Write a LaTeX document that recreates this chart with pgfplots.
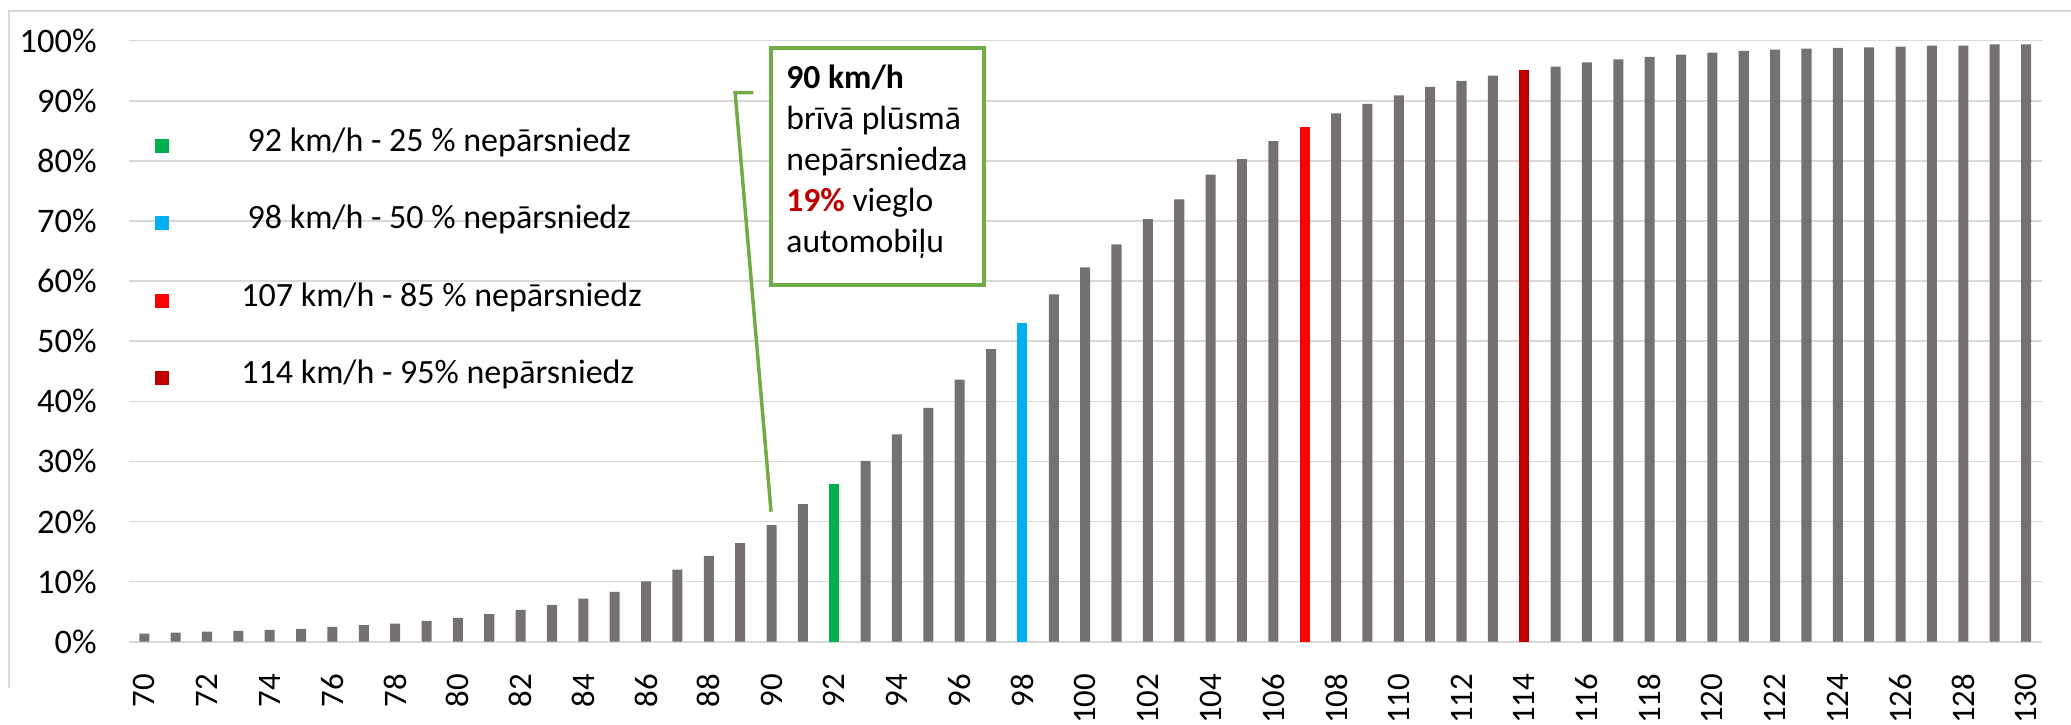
\documentclass[border=0pt]{standalone}
\usepackage{pgfplots}
\pgfplotsset{compat=1.18}
\usepackage{fontspec}
\setmainfont{Carlito}
\definecolor{bargray}{HTML}{767171}
\definecolor{cgreen}{HTML}{00B050}
\definecolor{cblue}{HTML}{00B0F0}
\definecolor{cred}{HTML}{FF0000}
\definecolor{cdred}{HTML}{C00000}
\definecolor{callout}{HTML}{70AD47}
\definecolor{gridc}{HTML}{D9D9D9}
\begin{document}
\begin{tikzpicture}
\useasboundingbox (-64.3pt,-41.15pt) rectangle (971.2pt,320.85pt);
\begin{axis}[
  scale only axis, width=956.55pt, height=300.5pt,
  xmin=69.5, xmax=130.5, ymin=0, ymax=100,
  clip=false,
  ybar, bar width=0.32,
  axis line style={draw=none},
  tick style={draw=none},
  ymajorgrids, grid style={gridc, line width=0.8pt},
  ytick={0,10,20,30,40,50,60,70,80,90,100},
  yticklabels={0\%,10\%,20\%,30\%,40\%,50\%,60\%,70\%,80\%,90\%,100\%},
  xtick={70,72,74,76,78,80,82,84,86,88,90,92,94,96,98,100,102,104,106,108,110,112,114,116,118,120,122,124,126,128,130},
  xticklabels={70,72,74,76,78,80,82,84,86,88,90,92,94,96,98,100,102,104,106,108,110,112,114,116,118,120,122,124,126,128,130},
  yticklabel style={inner sep=0pt, anchor=east, xshift=-15.8pt, font=\fontsize{17.2}{20}\selectfont},
  xticklabel style={yshift=-11.65pt, rotate=90, anchor=east, inner sep=0pt, font=\fontsize{16.4}{19}\selectfont},
  legend cell align=left,
  legend style={at={(axis description cs:0.013434,0.84)}, anchor=north west,
    draw=none, fill=none, inner sep=0pt, row sep=28.9pt, column sep=0pt,
    font=\fontsize{17}{20}\selectfont,
    nodes={inner sep=0pt, text height=0.7em, text depth=0.28em}},
]
\addplot[fill=bargray, draw=none, bar shift=0pt, forget plot] coordinates {
(70,1.35) (71,1.5) (72,1.68) (73,1.8) (74,1.96) (75,2.12) (76,2.45) (77,2.74) (78,3.02) (79,3.46)
(80,3.97) (81,4.58) (82,5.3) (83,6.1) (84,7.15) (85,8.3) (86,10.05) (87,12.0) (88,14.3) (89,16.4)
(90,19.4) (91,22.9) (93,30.1) (94,34.5) (95,38.9) (96,43.6) (97,48.7) (99,57.8)
(100,62.3) (101,66.1) (102,70.3) (103,73.6) (104,77.7) (105,80.3) (106,83.3) (108,87.9) (109,89.5)
(110,90.9) (111,92.3) (112,93.3) (113,94.2) (115,95.7) (116,96.4) (117,96.9) (118,97.3) (119,97.7)
(120,98.0) (121,98.3) (122,98.5) (123,98.7) (124,98.8) (125,98.9) (126,99.0) (127,99.2) (128,99.2) (129,99.4) (130,99.4)
};
\addplot[fill=cgreen, draw=none, bar shift=0pt,
  legend image code/.code={\fill[cgreen] (0pt,-3pt) rectangle (7pt,4pt); \path[draw=none,fill=none] (0pt,0pt) rectangle (43.35pt,0.1pt);}]
  coordinates {(92,26.2)};
\addlegendentry{\hspace{3.15pt}92 km/h - 25 \% nepārsniedz}
\addplot[fill=cblue, draw=none, bar shift=0pt,
  legend image code/.code={\fill[cblue] (0pt,-3pt) rectangle (7pt,4pt); \path[draw=none,fill=none] (0pt,0pt) rectangle (43.35pt,0.1pt);}]
  coordinates {(98,53.0)};
\addlegendentry{\hspace{3.15pt}98 km/h - 50 \% nepārsniedz}
\addplot[fill=cred, draw=none, bar shift=0pt,
  legend image code/.code={\fill[cred] (0pt,-3pt) rectangle (7pt,4pt); \path[draw=none,fill=none] (0pt,0pt) rectangle (43.35pt,0.1pt);}]
  coordinates {(107,85.6)};
\addlegendentry{107 km/h - 85 \% nepārsniedz}
\addplot[fill=cdred, draw=none, bar shift=0pt,
  legend image code/.code={\fill[cdred] (0pt,-3pt) rectangle (7pt,4pt); \path[draw=none,fill=none] (0pt,0pt) rectangle (43.35pt,0.1pt);}]
  coordinates {(114,95.1)};
\addlegendentry{114 km/h - 95\% nepārsniedz}
\draw[callout, line width=1.75pt] (axis cs:89.42,91.35) -- (axis cs:88.84,91.35) -- (axis cs:89.985,21.63);
\end{axis}
% chart area border
\draw[gridc, line width=0.85pt] (-59.8pt,-23.15pt) -- (-59.8pt,315.5pt) -- (975pt,315.5pt);
% callout box
\draw[callout, line width=2pt, fill=white] (321.35pt,296.85pt) rectangle (427.7pt,178.2pt);
\begin{scope}[every node/.style={anchor=base west, inner sep=0pt, font=\fontsize{16.8}{20}\selectfont}]
\node at (328.7pt,276.7pt) {\textbf{90 km/h}};
\node at (328.7pt,256.15pt) {brīvā plūsmā};
\node at (328.7pt,235.6pt) {nepārsniedza};
\node at (328.7pt,215.05pt) {\textbf{\textcolor{cdred}{19\%}} vieglo};
\node at (328.7pt,194.5pt) {automobiļu};
\end{scope}
\end{tikzpicture}
\end{document}
